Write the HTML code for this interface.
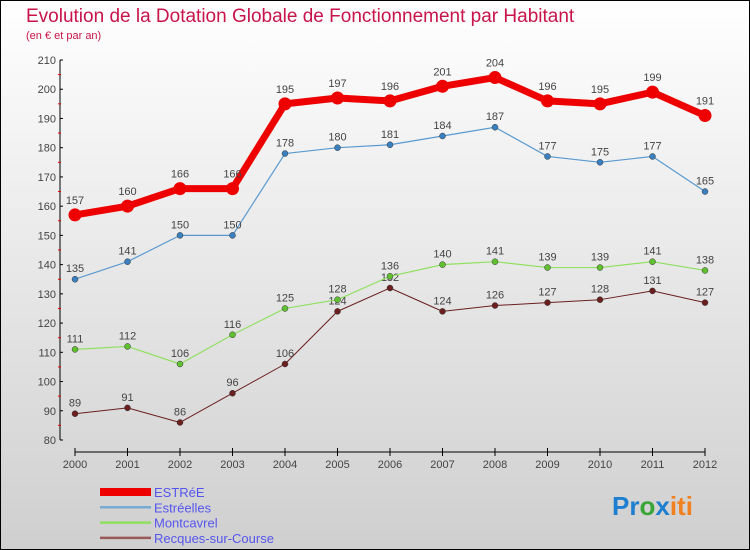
<!DOCTYPE html>
<html><head><meta charset="utf-8"><style>
body{margin:0}
svg{display:block;font-family:"Liberation Sans",sans-serif}
</style></head><body>
<svg width="750" height="550">
<defs><linearGradient id="bg" x1="0" y1="0" x2="0" y2="1"><stop offset="0" stop-color="#ffffff"/><stop offset="1" stop-color="#cfcfcf"/></linearGradient></defs>
<rect x="0.5" y="0.5" width="749" height="549" fill="url(#bg)" stroke="#000"/>
<text x="26" y="22" font-size="19" fill="#c8144a">Evolution de la Dotation Globale de Fonctionnement par Habitant</text>
<text x="26" y="39" font-size="11" fill="#c8144a">(en € et par an)</text>
<g id="axes"></g>
<g id="series"></g>
<g id="legend"></g>
<text x="612" y="515" font-size="26" font-weight="bold"><tspan fill="#1e7fd0">Pr</tspan><tspan fill="#3aa63a">o</tspan><tspan fill="#1e7fd0">x</tspan><tspan fill="#f08020">iti</tspan></text>
</svg>
<script>
const years=[2000,2001,2002,2003,2004,2005,2006,2007,2008,2009,2010,2011,2012];
const estree=[157,160,166,166,195,197,196,201,204,196,195,199,191];
const estreelles=[135,141,150,150,178,180,181,184,187,177,175,177,165];
const montcavrel=[111,112,106,116,125,128,136,140,141,139,139,141,138];
const recques=[89,91,86,96,106,124,132,124,126,127,128,131,127];
const yTicks=[80,90,100,110,120,130,140,150,160,170,180,190,200,210];
const seriesNames=["ESTRéE","Estréelles","Montcavrel","Recques-sur-Course"];
const NS="http://www.w3.org/2000/svg";
const x=i=>75+i*52.5;
const y=v=>440-(v-80)*(380/130);
function mk(tag,attrs,parent,text){const e=document.createElementNS(NS,tag);for(const k in attrs)e.setAttribute(k,attrs[k]);if(text!==undefined)e.textContent=text;parent.appendChild(e);return e;}
const ax=document.getElementById('axes');
let yl=mk('line',{x1:60,y1:y(210),x2:60,y2:y(80),stroke:'#000','stroke-width':1},ax);


yTicks.forEach(v=>{
 mk('line',{x1:60,x2:63,y1:y(v),y2:y(v),stroke:'#000'},ax);
 if(v<210)mk('line',{x1:58,x2:61,y1:y(v+5),y2:y(v+5),stroke:'#e00'},ax);
 const t=mk('text',{x:56,y:y(v)+4,'font-size':11,fill:'#444','text-anchor':'end'},ax,v);
 
 
});
let xl=mk('line',{x1:x(0),y1:452,x2:x(12),y2:452,stroke:'#000'},ax);


years.forEach((yr,i)=>{
 mk('line',{x1:x(i),x2:x(i),y1:448,y2:456,stroke:'#000'},ax);
 const t=mk('text',{x:x(i),y:468,'font-size':11,fill:'#444','text-anchor':'middle'},ax,yr);
 
 
});
const sg=document.getElementById('series');
const defs=[[recques,'#6b1f1f','#6b1f1f',1,5],[montcavrel,'#90e060','#60c030',1.2,5],[estreelles,'#5a9ad0','#3a80c0',1.2,5],[estree,'#ee0000','#ee0000',7,11]];
const names=['recques-sur-course','montcavrel','estreelles','estree'];
defs.forEach((d,si)=>{
 const [vals,lc,pc,w,r]=d;
 const g=mk('g',{},sg);
 
 
 const pl=mk('polyline',{points:vals.map((v,i)=>x(i)+','+y(v)).join(' '),fill:'none',stroke:lc,'stroke-width':w,'stroke-linejoin':'round'},g);
 
 
 vals.forEach((v,i)=>{
  const c=mk('circle',{cx:x(i),cy:y(v),r:r/2+(w>3?1:0.5),fill:pc,stroke:w>3?'none':'#333','stroke-width':0.5},g);
  
  
  const t=mk('text',{x:x(i),y:y(v)-(w>3?11:7),'font-size':11,fill:'#444','text-anchor':'middle'},g,v);
  
  
 });
});
const lg=document.getElementById('legend');
const lcol=['#ee0000','#7aaad0','#90e060','#9a5a5a'];
const lw=[8,2.5,2.5,2.5];
seriesNames.forEach((n,i)=>{
 const yy=492+i*15.3;
 const g=mk('g',{},lg);
 
 
 mk('line',{x1:100,x2:151,y1:yy,y2:yy,stroke:lcol[i],'stroke-width':lw[i]},g);
 mk('text',{x:154,y:yy+5,'font-size':13,fill:'#5555ee'},g,n);
});
</script>
</body></html>
